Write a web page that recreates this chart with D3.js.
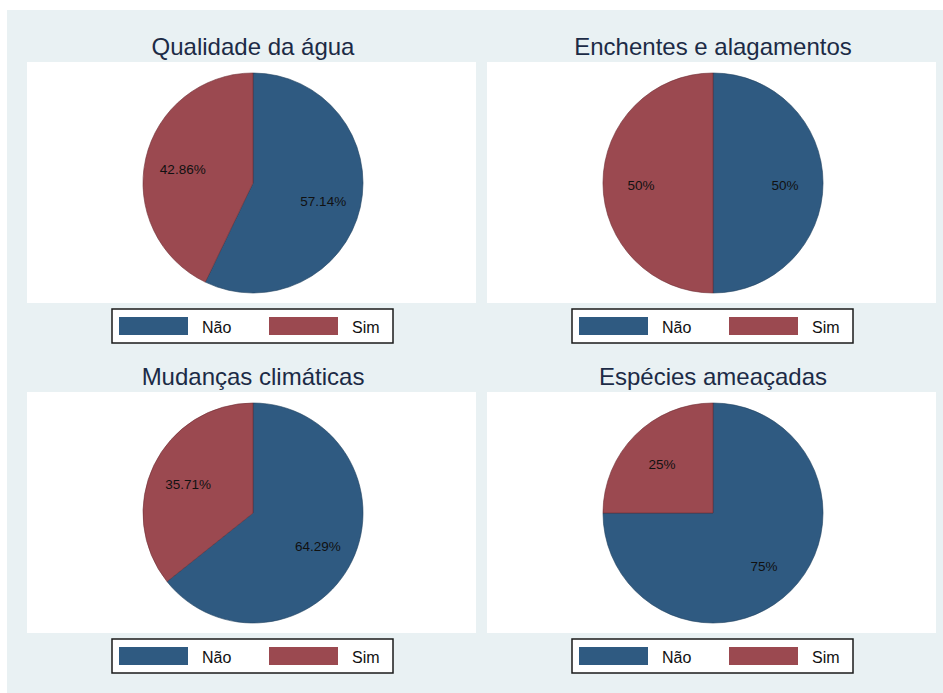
<!DOCTYPE html>
<html>
<head>
<meta charset="utf-8">
<script src="https://cdn.jsdelivr.net/npm/d3@7"></script>
<style>
  html, body { margin: 0; padding: 0; background: #ffffff; }
  svg { display: block; }
</style>
</head>
<body>
<svg id="chart" width="943" height="693"></svg>
<script>
// ---- data ----
const titles = ["Qualidade da água", "Enchentes e alagamentos", "Mudanças climáticas", "Espécies ameaçadas"];
const categories = ["Não", "Sim"];
const naoValues = [57.14, 50, 64.29, 75];
const simValues = [42.86, 50, 35.71, 25];
const valueLabels = [["57.14%", "42.86%"], ["50%", "50%"], ["64.29%", "35.71%"], ["75%", "25%"]];

// ---- style ----
const colors = { "Não": "#2f5a81", "Sim": "#9b4950" };
const strokeColors = { "Não": "#1f3f5e", "Sim": "#6e2e34" };
const bgColor = "#e9f1f3";
const font = "'Liberation Sans', Arial, Helvetica, sans-serif";

const svg = d3.select("#chart");

svg.append("rect")
  .attr("x", 7).attr("y", 10).attr("width", 936).attr("height", 683)
  .attr("fill", bgColor);

const colX = [27, 487];
const rowY = [62, 392];
const plotW = 449, plotH = 241;
const R = 110;

const pie = d3.pie().sort(null).value(d => d.value).startAngle(0).endAngle(2 * Math.PI);
const arc = d3.arc().innerRadius(0).outerRadius(R);
const labelArc = d3.arc().innerRadius(R * 0.655).outerRadius(R * 0.655);

titles.forEach((title, i) => {
  const px = colX[i % 2], py = rowY[Math.floor(i / 2)];
  const cx = px + 226, cy = py + 121;
  const g = svg.append("g");

  g.append("rect").attr("x", px).attr("y", py).attr("width", plotW).attr("height", plotH)
    .attr("fill", "#ffffff");

  g.append("text").attr("x", cx).attr("y", py - 7)
    .attr("text-anchor", "middle")
    .attr("font-family", font).attr("font-size", 24)
    .attr("fill", "#1c2b46")
    .text(title);

  const data = categories.map((c, k) => ({ cat: c, value: k === 0 ? naoValues[i] : simValues[i], label: valueLabels[i][k] }));
  const arcs = pie(data);

  const pg = g.append("g").attr("transform", `translate(${cx},${cy})`);
  pg.selectAll("path").data(arcs).join("path")
    .attr("d", arc)
    .attr("fill", d => colors[d.data.cat])
    .attr("stroke", d => strokeColors[d.data.cat])
    .attr("stroke-width", 0.6);

  pg.selectAll("text").data(arcs).join("text")
    .attr("transform", d => { const c = labelArc.centroid(d); return `translate(${c[0]},${c[1]})`; })
    .attr("dy", 7)
    .attr("text-anchor", "middle")
    .attr("font-family", font).attr("font-size", 13.5)
    .attr("fill", "#111111")
    .text(d => d.data.label);

  // legend
  const lx = cx - 141, ly = py + 247;
  const lg = g.append("g").attr("transform", `translate(${lx},${ly})`);
  lg.append("rect").attr("x", 0).attr("y", 0).attr("width", 281).attr("height", 34)
    .attr("fill", "#ffffff").attr("stroke", "#1a1a1a").attr("stroke-width", 1.5);
  categories.forEach((c, k) => {
    const ox = k * 150;
    lg.append("rect").attr("x", 7 + ox).attr("y", 8).attr("width", 69).attr("height", 18)
      .attr("fill", colors[c]);
    lg.append("text").attr("x", (k === 0 ? 90 : 240))
      .attr("y", 24)
      .attr("font-family", font).attr("font-size", 16)
      .attr("fill", "#111111")
      .text(c);
  });
});
</script>
</body>
</html>
